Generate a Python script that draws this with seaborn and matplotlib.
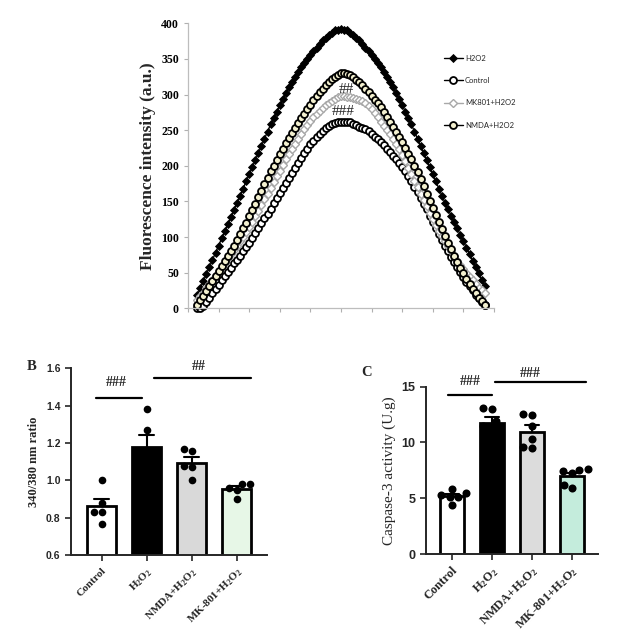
import numpy as np
import pandas as pd
import seaborn as sns
import matplotlib.pyplot as plt

sns.set_style('ticks')
plt.rcParams['font.family'] = ['Liberation Serif', 'DejaVu Serif']
plt.rcParams['mathtext.fontset'] = 'custom'
plt.rcParams['mathtext.rm'] = 'Liberation Serif:bold'
plt.rcParams['mathtext.it'] = 'Liberation Serif:bold'
plt.rcParams['mathtext.bf'] = 'Liberation Serif:bold'

# ---- A: fluorescence spectra (one value per sample) ----
h2o2 = [18, 28, 38, 48, 58, 68, 78, 88, 98, 108, 118, 128, 138, 148, 158, 168, 178, 188, 198, 208,
        218, 228, 238, 248, 258, 267, 276, 285, 294, 302, 310, 317, 324, 331, 338, 344, 350, 356, 361, 366,
        371, 376, 380, 384, 387, 390, 391, 392, 391, 390, 387, 384, 380, 376, 371, 366, 361, 356, 350, 344,
        338, 331, 324, 317, 310, 302, 294, 285, 276, 267, 258, 248, 238, 228, 218, 208, 198, 188, 178, 168,
        158, 148, 139, 130, 121, 112, 103, 94, 85, 76, 67, 58, 49, 40, 31]
control = [0, 0, 3, 9, 15, 21, 27, 33, 39, 45, 51, 57, 63, 68, 74, 80, 86, 92, 98, 105,
           112, 119, 126, 133, 140, 148, 155, 162, 169, 176, 183, 190, 197, 204, 211, 218, 224, 230, 235, 240,
           245, 249, 253, 256, 258, 260, 261, 262, 262, 262, 261, 259, 257, 255, 253, 251, 249, 245, 241, 237,
           233, 229, 224, 219, 214, 209, 204, 198, 192, 185, 178, 170, 163, 155, 147, 139, 130, 121, 112, 104,
           96, 88, 80, 72, 65, 58, 51, 44, 37, 31, 25, 19, 14, 9, 5]
mk801 = [12, 17, 22, 28, 34, 40, 46, 52, 58, 64, 70, 76, 82, 88, 94, 100, 107, 114, 121, 129,
         137, 145, 153, 161, 169, 177, 185, 193, 201, 209, 217, 224, 231, 238, 245, 251, 257, 263, 268, 273,
         277, 281, 285, 288, 291, 294, 296, 298, 298, 297, 296, 295, 294, 293, 291, 288, 284, 279, 274, 268,
         262, 256, 250, 244, 238, 231, 223, 215, 206, 197, 188, 179, 170, 161, 152, 143, 134, 125, 117, 109,
         101, 94, 87, 80, 73, 67, 61, 55, 49, 44, 39, 34, 29, 25, 21]
nmda = [5, 11, 17, 24, 31, 38, 45, 52, 59, 66, 73, 80, 88, 96, 104, 112, 120, 129, 138, 147,
        156, 165, 174, 183, 192, 200, 208, 216, 224, 232, 239, 246, 253, 260, 267, 273, 280, 286, 292, 298,
        303, 308, 313, 318, 322, 325, 328, 330, 330, 329, 327, 324, 321, 317, 313, 308, 303, 298, 293, 288,
        282, 276, 269, 262, 255, 248, 241, 233, 225, 217, 209, 200, 191, 181, 171, 161, 151, 141, 131, 121,
        111, 101, 92, 83, 74, 65, 57, 49, 41, 34, 27, 21, 15, 10, 5]

# ---- B and C: individual points per group ----
groups = ['Control', 'H2O2', 'NMDA+H2O2', 'MK-801+H2O2']
tick_labels = ['Control', 'H$_2$O$_2$', 'NMDA+H$_2$O$_2$', 'MK-801+H$_2$O$_2$']
ratio_control = [1.00, 0.88, 0.83, 0.83, 0.77]
ratio_h2o2 = [1.38, 1.27, 1.12, 1.08, 1.05]
ratio_nmda = [1.17, 1.16, 1.08, 1.07, 1.00]
ratio_mk801 = [0.98, 0.98, 0.96, 0.95, 0.90]
casp_control = [5.8, 5.45, 5.3, 5.15, 5.1, 4.4]
casp_h2o2 = [13.1, 13.0, 11.9, 11.5, 11.3, 9.8]
casp_nmda = [12.55, 12.45, 11.5, 10.3, 9.55, 9.5]
casp_mk801 = [7.6, 7.55, 7.4, 7.3, 6.2, 5.9]

colors_b = ['white', 'black', '#d9d9d9', '#e4fae4']
colors_c = ['white', 'black', '#dcdcdc', '#bdf3dd']


def long_df(values):
    rows = []
    for g, vals in zip(groups, values):
        for v in vals:
            rows.append((g, v))
    return pd.DataFrame(rows, columns=['group', 'value'])


fig = plt.figure(figsize=(6.39, 6.36), dpi=100)

# ================= A =================
ax = fig.add_axes([0.2942, 0.5153, 0.4789, 0.4481])
series = [
    ('H2O2', h2o2, dict(color='black', marker='D', markersize=4.4, markerfacecolor='black',
                        markeredgecolor='black', markeredgewidth=0.6)),
    ('Control', control, dict(color='black', marker='o', markersize=5.0, markerfacecolor='white',
                              markeredgecolor='black', markeredgewidth=1.3)),
    ('MK801+H2O2', mk801, dict(color='#a8a8a8', marker='D', markersize=4.0, markerfacecolor='white',
                               markeredgecolor='#a8a8a8', markeredgewidth=1.0)),
    ('NMDA+H2O2', nmda, dict(color='black', marker='o', markersize=5.0, markerfacecolor='#f3f0cf',
                             markeredgecolor='black', markeredgewidth=1.3)),
]
for name, vals, kw in series:
    sns.lineplot(x=np.arange(len(vals)), y=vals, label=name, linewidth=1.0, clip_on=False, ax=ax, **kw)

ax.set_xlim(-3, 97)
ax.set_ylim(0, 400)
ax.set_xticks(np.arange(-3, 98, 10))
ax.set_xticklabels([])
ax.set_yticks(np.arange(0, 401, 50))
for lab in ax.get_yticklabels():
    lab.set_fontweight('bold')
ax.tick_params(axis='both', colors='#b0b0b0', length=3, width=0.8, labelsize=8.5, labelcolor='black')
for s in ['left', 'bottom']:
    ax.spines[s].set_color('#bdbdbd')
    ax.spines[s].set_linewidth(0.9)
sns.despine(ax=ax)
ax.set_ylabel('Fluorescence intensity (a.u.)', fontsize=12.5, fontweight='bold', labelpad=4)
ax.set_xlabel('')
ax.text(48.7, 307, '##', ha='center', va='center', fontsize=11)
ax.text(47.7, 276, '###', ha='center', va='center', fontsize=11)
leg = ax.legend(loc='upper left', bbox_to_anchor=(0.825, 0.9), frameon=False,
                prop={'family': 'Lato', 'size': 5.5}, handlelength=2.6, labelspacing=2.0,
                handletextpad=0.2, borderaxespad=0)

# ================= B =================
axb = fig.add_axes([0.1111, 0.1269, 0.3063, 0.2940])
dfb = long_df([ratio_control, ratio_h2o2, ratio_nmda, ratio_mk801])
sns.barplot(data=dfb, x='group', y='value', hue='group', palette=colors_b, legend=False,
            edgecolor='black', linewidth=2, width=0.64, errorbar='se', capsize=0.35,
            err_kws={'color': 'black', 'linewidth': 1.5, 'zorder': 0.9}, ax=axb)
sns.swarmplot(data=dfb, x='group', y='value', color='black', size=5.5, zorder=3, ax=axb)
axb.set_xlim(-0.68, 3.67)
axb.set_ylim(0.6, 1.6)
axb.set_yticks(np.arange(0.6, 1.61, 0.2))
axb.set_yticklabels(['%.1f' % t for t in np.arange(0.6, 1.61, 0.2)],
                    fontfamily='Liberation Sans', fontweight='bold', fontsize=7.5)
axb.set_xticks(range(4))
axb.set_xticklabels(tick_labels, rotation=45, ha='right', rotation_mode='anchor',
                    fontweight='bold', fontsize=8)
axb.tick_params(axis='both', length=4, width=1.2)
for s in ['left', 'bottom']:
    axb.spines[s].set_linewidth(1.4)
sns.despine(ax=axb)
axb.set_xlabel('')
axb.set_ylabel('340/380 nm ratio', fontsize=9, fontweight='bold', labelpad=4)
axb.plot([-0.13, 0.89], [1.443, 1.443], color='black', lw=1.6, clip_on=False)
axb.plot([1.16, 3.31], [1.55, 1.55], color='black', lw=1.6, clip_on=False)
axb.text(0.33, 1.523, '###', ha='center', va='center', fontsize=10, fontweight='bold')
axb.text(2.16, 1.609, '##', ha='center', va='center', fontsize=10, fontweight='bold')
fig.text(32 / 639, 1 - 367 / 636, 'B', fontsize=10.5, fontweight='bold', ha='center', va='center')

# ================= C =================
axc = fig.add_axes([0.6667, 0.1289, 0.2696, 0.2631])
dfc = long_df([casp_control, casp_h2o2, casp_nmda, casp_mk801])
sns.barplot(data=dfc, x='group', y='value', hue='group', palette=colors_c, legend=False,
            edgecolor='black', linewidth=2, width=0.6, errorbar='se', capsize=0.35,
            err_kws={'color': 'black', 'linewidth': 1.5, 'zorder': 0.9}, ax=axc)
sns.swarmplot(data=dfc, x='group', y='value', color='black', size=5.8, zorder=3, ax=axc)
axc.set_xlim(-0.64, 3.67)
axc.set_ylim(0, 15)
axc.set_yticks([0, 5, 10, 15])
axc.set_yticklabels(['0', '5', '10', '15'], fontfamily='Liberation Sans', fontweight='bold', fontsize=9)
axc.set_xticks(range(4))
axc.set_xticklabels(tick_labels, rotation=45, ha='right', rotation_mode='anchor',
                    fontweight='bold', fontsize=9)
axc.tick_params(axis='both', length=4, width=1.2)
for s in ['left', 'bottom']:
    axc.spines[s].set_linewidth(1.4)
sns.despine(ax=axc)
axc.set_xlabel('')
axc.set_ylabel('Caspase-3 activity (U.g)', fontsize=11, labelpad=4)
axc.plot([-0.1, 1.02], [14.26, 14.26], color='black', lw=1.6, clip_on=False)
axc.plot([1.08, 3.37], [15.4, 15.4], color='black', lw=1.6, clip_on=False)
axc.text(0.46, 15.45, '###', ha='center', va='center', fontsize=10, fontweight='bold')
axc.text(1.98, 16.2, '###', ha='center', va='center', fontsize=10, fontweight='bold')
fig.text(367 / 639, 1 - 372 / 636, 'C', fontsize=10.5, fontweight='bold', ha='center', va='center')

fig.savefig('out.png', dpi=100)
